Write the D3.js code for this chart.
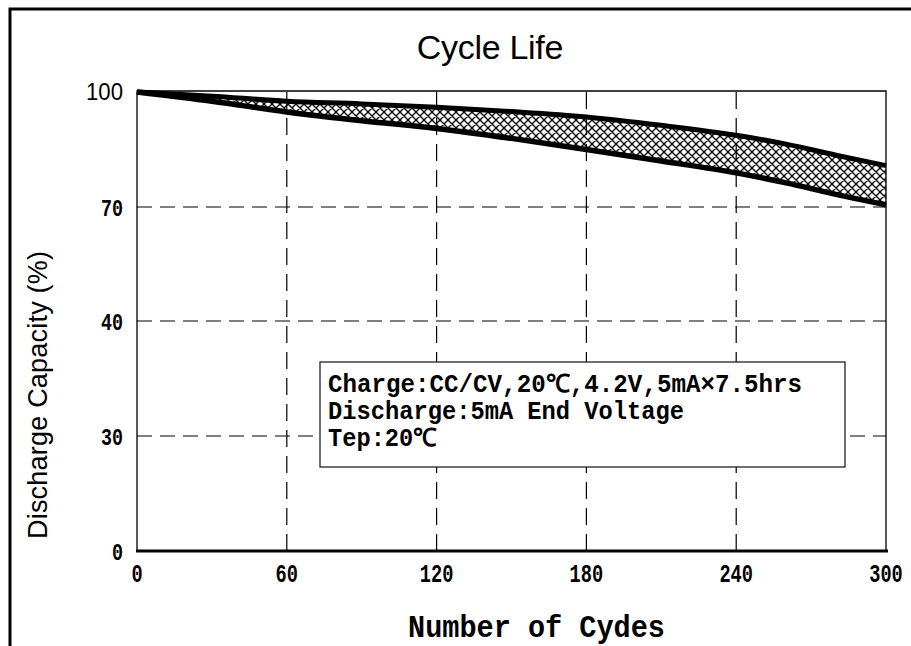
<!DOCTYPE html>
<html>
<head>
<meta charset="utf-8">
<script src="https://cdn.jsdelivr.net/npm/d3@7"></script>
<style>
  body { margin: 0; background: #fff; }
</style>
</head>
<body>
<div id="chart"></div>
<script>
// values
var cycles   = [0, 30, 60, 90, 120, 150, 180, 210, 240, 260, 280, 300];
var upperCap = [100, 98.9, 97.6, 96.9, 96.0, 94.9, 93.5, 91.3, 88.7, 86.4, 83.5, 80.8];
var lowerCap = [100, 97.6, 94.8, 92.5, 90.5, 87.9, 85.0, 82.0, 78.9, 76.3, 73.3, 70.6];
var xTicks = [0, 60, 120, 180, 240, 300];
var yTicks = [0, 30, 40, 70, 100];
var noteLines = ["Charge:CC/CV,20℃,4.2V,5mA×7.5hrs", "Discharge:5mA End Voltage", "Tep:20℃"];
var noteWidths = [474, 356, 109];

var width = 911, height = 646;
var plotL = 137, plotR = 886, plotT = 92, plotB = 551;

var svg = d3.select('#chart').append('svg')
    .attr('width', width)
    .attr('height', height);

// cross hatch for the band
svg.append('defs').append('pattern')
    .attr('id', 'hatch')
    .attr('patternUnits', 'userSpaceOnUse')
    .attr('width', 8)
    .attr('height', 8)
  .append('path')
    .attr('d', 'M0,0L8,8M8,0L0,8M-2,6L2,10M6,-2L10,2M-2,2L2,-2M6,10L10,6')
    .attr('stroke', '#000')
    .attr('stroke-width', 1.3);

// outer frame (runs off the right and bottom of the picture)
svg.append('rect')
    .attr('x', 10).attr('y', 9)
    .attr('width', 960).attr('height', 700)
    .attr('fill', 'none')
    .attr('stroke', '#000')
    .attr('stroke-width', 3);

var x = d3.scaleLinear().domain([0, 300]).range([plotL, plotR]);
// the y axis is broken: equal steps between uneven tick values
var y = d3.scaleLinear().domain(yTicks).range([plotB, 436, 321, 207, plotT]);

// grid
svg.append('g').selectAll('line')
    .data(xTicks.slice(1, -1))
    .enter().append('line')
    .attr('x1', function(d) { return x(d); })
    .attr('x2', function(d) { return x(d); })
    .attr('y1', plotT).attr('y2', plotB)
    .attr('stroke', '#000')
    .attr('stroke-width', 1.2)
    .attr('stroke-dasharray', '17,9');

svg.append('g').selectAll('line')
    .data(yTicks.slice(1, -1))
    .enter().append('line')
    .attr('x1', plotL).attr('x2', plotR)
    .attr('y1', function(d) { return y(d); })
    .attr('y2', function(d) { return y(d); })
    .attr('stroke', '#000')
    .attr('stroke-width', 1.2)
    .attr('stroke-dasharray', '15,8');

// plot frame
svg.append('path')
    .attr('d', 'M' + plotL + ',' + plotB + 'V' + (plotT - 1) + 'H' + plotR + 'V' + plotB)
    .attr('fill', 'none')
    .attr('stroke', '#000')
    .attr('stroke-width', 1.3);
svg.append('line')
    .attr('x1', plotL - 1).attr('x2', plotR + 2)
    .attr('y1', plotB).attr('y2', plotB)
    .attr('stroke', '#000')
    .attr('stroke-width', 3);

// band
var band = cycles.map(function(c, i) { return {c: c, hi: upperCap[i], lo: lowerCap[i]}; });

svg.append('path')
    .datum(band)
    .attr('fill', 'url(#hatch)')
    .attr('d', d3.area()
        .x(function(d) { return x(d.c); })
        .y0(function(d) { return y(d.lo); })
        .y1(function(d) { return y(d.hi); })
        .curve(d3.curveMonotoneX));

var line = d3.line().x(function(d) { return x(d.c); }).curve(d3.curveMonotoneX);

svg.append('path')
    .datum(band)
    .attr('fill', 'none')
    .attr('stroke', '#000')
    .attr('stroke-width', 5)
    .attr('d', line.y(function(d) { return y(d.hi); }));

svg.append('path')
    .datum(band)
    .attr('fill', 'none')
    .attr('stroke', '#000')
    .attr('stroke-width', 5.5)
    .attr('d', line.y(function(d) { return y(d.lo); }));

// tick labels
svg.append('g').selectAll('text')
    .data(xTicks)
    .enter().append('text')
    .attr('x', function(d) { return x(d); })
    .attr('y', 582)
    .attr('text-anchor', 'middle')
    .attr('font-family', 'Liberation Mono, monospace')
    .attr('font-weight', 'bold')
    .attr('font-size', 26)
    .attr('textLength', function(d) { return String(d).length * 11.2; })
    .attr('lengthAdjust', 'spacingAndGlyphs')
    .text(function(d) { return d; });

svg.append('g').selectAll('text')
    .data(yTicks)
    .enter().append('text')
    .attr('x', 123)
    .attr('y', function(d) { return y(d); })
    .attr('dy', '0.36em')
    .attr('text-anchor', 'end')
    .attr('font-family', function(d) { return d == 100 ? 'Liberation Sans, Arial, sans-serif' : 'Liberation Mono, monospace'; })
    .attr('font-weight', function(d) { return d == 100 ? 'normal' : 'bold'; })
    .attr('font-size', function(d) { return d == 100 ? 23 : 24; })
    .attr('textLength', function(d) { return d == 100 ? 37 : String(d).length * 11; })
    .attr('lengthAdjust', 'spacingAndGlyphs')
    .text(function(d) { return d; });

// titles
svg.append('text')
    .attr('x', 490).attr('y', 59)
    .attr('text-anchor', 'middle')
    .attr('font-family', 'Liberation Sans, Arial, sans-serif')
    .attr('font-size', 34)
    .attr('letter-spacing', -0.3)
    .text('Cycle Life');

svg.append('text')
    .attr('transform', 'translate(47,395) rotate(-90)')
    .attr('text-anchor', 'middle')
    .attr('font-family', 'Liberation Sans, Arial, sans-serif')
    .attr('font-size', 27)
    .attr('textLength', 288)
    .text('Discharge Capacity (%)');

svg.append('text')
    .attr('x', 408).attr('y', 637)
    .attr('font-family', 'Liberation Mono, monospace')
    .attr('font-size', 32)
    .attr('font-weight', 'bold')
    .attr('textLength', 257)
    .attr('lengthAdjust', 'spacingAndGlyphs')
    .text('Number of Cydes');

// note box
svg.append('rect')
    .attr('x', 320).attr('y', 362)
    .attr('width', 525).attr('height', 105)
    .attr('fill', '#fff')
    .attr('stroke', '#222')
    .attr('stroke-width', 1.3);

svg.append('g').selectAll('text')
    .data(noteLines)
    .enter().append('text')
    .attr('x', 328)
    .attr('y', function(d, i) { return 392 + i * 27; })
    .attr('font-family', 'Liberation Mono, monospace')
    .attr('font-weight', 'bold')
    .attr('font-size', 25)
    .attr('textLength', function(d, i) { return noteWidths[i]; })
    .attr('lengthAdjust', 'spacingAndGlyphs')
    .text(function(d) { return d; });
</script>
</body>
</html>
